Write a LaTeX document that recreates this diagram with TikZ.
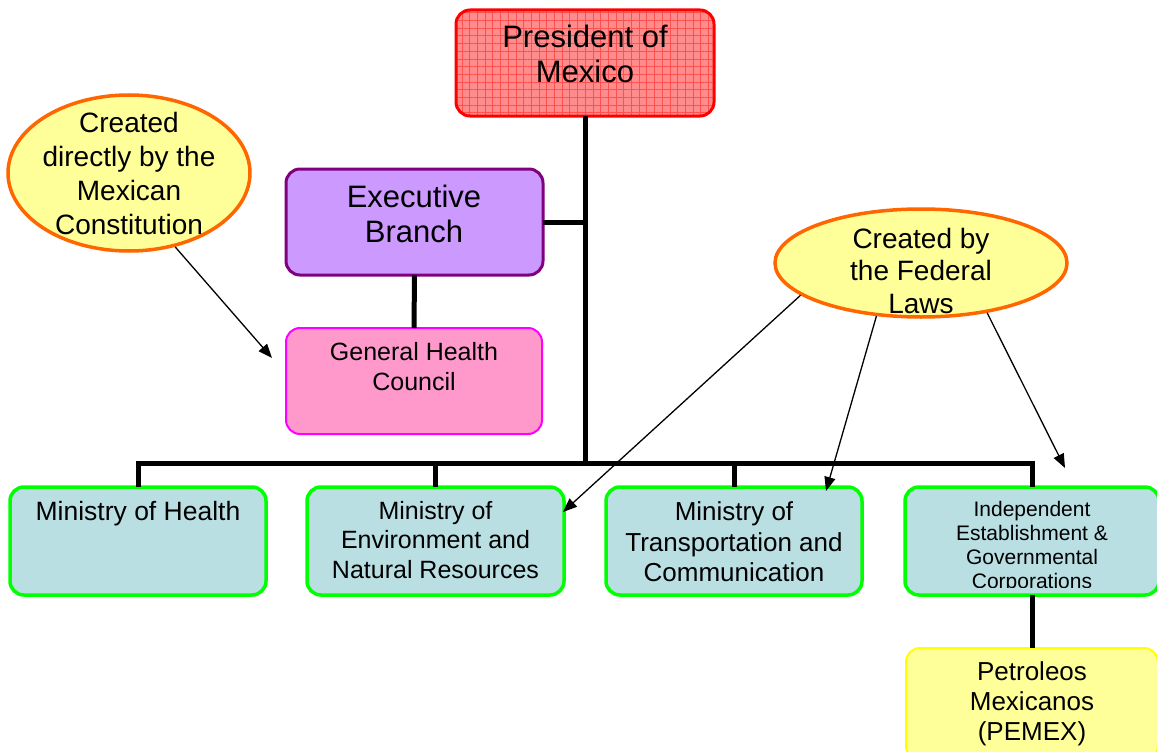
\documentclass[tikz,border=0pt]{standalone}
\usepackage{fontspec}
\setmainfont{Liberation Sans}
\usetikzlibrary{shapes.geometric,arrows.meta,patterns.meta}
\definecolor{pfill}{HTML}{FF8C8C}
\definecolor{pgrid}{HTML}{FF5050}
\definecolor{execfill}{HTML}{CC99FF}
\definecolor{execdraw}{HTML}{800080}
\definecolor{ghcfill}{HTML}{FF99CC}
\definecolor{ghcdraw}{HTML}{FF00FF}
\definecolor{ellfill}{HTML}{FFFF99}
\definecolor{elldraw}{HTML}{FF6600}
\definecolor{minfill}{HTML}{B9DFE3}
\definecolor{mindraw}{HTML}{00FF00}
\definecolor{pemfill}{HTML}{FFFF99}
\definecolor{pemdraw}{HTML}{FFFF00}
\tikzset{
  boxbase/.style={rectangle, rounded corners=14pt, inner sep=0pt, outer sep=0pt},
  presbox/.style={boxbase, draw=red, line width=3pt,
    preaction={fill=pfill},
    preaction={pattern={Lines[angle=0,distance=7.7pt,line width=0.8pt]}, pattern color=pgrid},
    preaction={pattern={Lines[angle=90,distance=7.7pt,line width=0.8pt]}, pattern color=pgrid}},
  execbox/.style={boxbase, draw=execdraw, fill=execfill, line width=3pt},
  ghcbox/.style={boxbase, draw=ghcdraw, fill=ghcfill, line width=2pt},
  minbox/.style={boxbase, draw=mindraw, fill=minfill, line width=3.5pt},
  pembox/.style={boxbase, draw=pemdraw, fill=pemfill, line width=2pt},
  ellbox/.style={ellipse, draw=elldraw, fill=ellfill, line width=3.5pt, inner sep=0pt},
  txt/.style={inner sep=0pt, outer sep=0pt, align=center, anchor=north},
  trunk/.style={line width=5pt, draw=black},
  note/.style={line width=1.3pt, -{Triangle[length=14pt,width=11pt]}},
}
\begin{document}
\begin{tikzpicture}[x=1pt,y=-1pt]
\useasboundingbox (0,0) rectangle (1157,752);
\clip (0,0) rectangle (1157,752);

% boxes
\node[presbox, minimum width=258pt, minimum height=106pt] (pres) at (585,63) {};
\node[execbox, minimum width=257pt, minimum height=106pt] (exec) at (414.5,222) {};
\node[ghcbox, minimum width=256pt, minimum height=106pt] (ghc) at (414,381) {};
\node[minbox, minimum width=256pt, minimum height=108pt] (m1) at (138,541) {};
\node[minbox, minimum width=257pt, minimum height=108pt] (m2) at (435.5,541) {};
\node[minbox, minimum width=256pt, minimum height=108pt] (m3) at (734,541) {};
\node[minbox, minimum width=254pt, minimum height=108pt] (m4) at (1032,541) {};
\node[pembox, minimum width=252pt, minimum height=112pt] (pem) at (1032,704) {};

% ellipses
\node[ellbox, minimum width=242pt, minimum height=156pt] (e1) at (129,173) {};
\node[ellbox, minimum width=292pt, minimum height=108pt] (e2) at (921,263) {};

% tree connectors
\coordinate (bus) at (585,463);
\draw[trunk] (pres.south) -- (bus);
\draw[trunk] (exec.east) -- (exec.east -| pres.south);
\draw[trunk] (exec.south) -- (ghc.north);
\draw[trunk] (m1.north) |- (bus) -| (m4.north);
\draw[trunk] (m2.north) -- (m2.north |- bus);
\draw[trunk] (m3.north) -- (m3.north |- bus);
\draw[trunk] (m4.south) -- (pem.north);

% texts
\node[txt, font=\fontsize{31}{35}\selectfont] (prest) at (585,25) {President of\\Mexico};
\node[txt, font=\fontsize{31}{35}\selectfont] (exect) at (414,185) {Executive\\Branch};
\node[txt, font=\fontsize{25}{30}\selectfont] (ghct) at (414,342) {General Health\\Council};
\node[txt, font=\fontsize{26.5}{30}\selectfont] (m1t) at (138,501) {Ministry of Health};
\node[txt, font=\fontsize{25}{29.5}\selectfont] (m2t) at (435.5,501) {Ministry of\\Environment and\\Natural Resources};
\node[txt, font=\fontsize{26}{30.5}\selectfont] (m3t) at (734,502) {Ministry of\\Transportation and\\Communication};
\begin{scope}
\clip (900,487) rectangle (1160,587);
\node[txt, font=\fontsize{21}{24}\selectfont] (m4t) at (1032,501) {Independent\\Establishment \&\\Governmental\\Corporations};
\end{scope}
\node[txt, font=\fontsize{26}{30}\selectfont] (pemt) at (1032,662) {Petroleos\\Mexicanos\\(PEMEX)};
\node[txt, font=\fontsize{28}{34}\selectfont] (e1t) at (129,112) {Created\\directly by the\\Mexican\\Constitution};
\node[txt, font=\fontsize{28}{32.5}\selectfont] (e2t) at (921,228) {Created by\\the Federal\\Laws};

% annotation arrows
\coordinate (a1) at (272,358);
\coordinate (a2) at (563,512);
\coordinate (a3) at (826,491);
\coordinate (a4) at (1065,468);
\draw[note] (e1.-58) -- (a1);
\draw[note] (e2.195) -- (a2);
\draw[note] (e2.230) -- (a3);
\draw[note] (e2.-37) -- (a4);
\end{tikzpicture}
\end{document}
